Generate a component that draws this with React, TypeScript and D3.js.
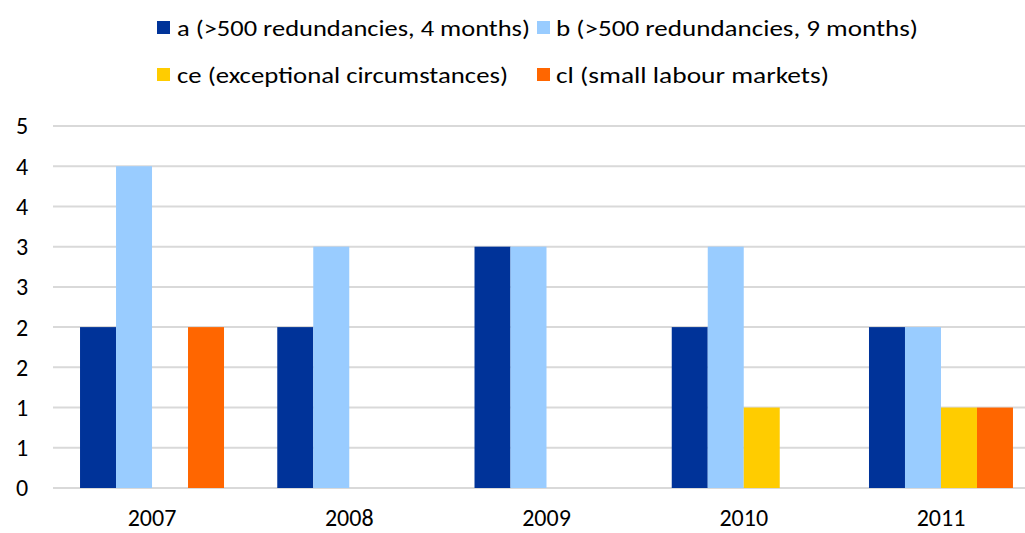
import React from "react";
import * as d3 from "d3";

const categories = ["2007", "2008", "2009", "2010", "2011"];
const seriesNames = [
  "a (>500 redundancies, 4 months)",
  "b (>500 redundancies, 9 months)",
  "ce (exceptional circumstances)",
  "cl (small labour markets)",
];
const seriesA = [2, 2, 3, 2, 2];
const seriesB = [4, 3, 3, 3, 2];
const seriesCE = [0, 0, 0, 1, 1];
const seriesCL = [2, 0, 0, 0, 1];
const yTicks = [0, 0.5, 1, 1.5, 2, 2.5, 3, 3.5, 4, 4.5];
const colors = ["#003399", "#99CCFF", "#FFCC00", "#FF6600"];

const W = 1025;
const H = 533;
const FONT = "Carlito, Calibri, 'Open Sans', sans-serif";

export default function App() {
  const series = [seriesA, seriesB, seriesCE, seriesCL];
  const x = d3.scaleBand<string>().domain(categories).range([53.4, 1039.6]).paddingInner(0).paddingOuter(0);
  const groupW = x.bandwidth() * 0.73;
  const xi = d3
    .scaleBand<number>()
    .domain(d3.range(series.length))
    .range([(x.bandwidth() - groupW) / 2, (x.bandwidth() + groupW) / 2]);
  const y = d3.scaleLinear().domain([0, 4.5]).range([488, 126]);

  const legendItems = [
    { name: seriesNames[0], color: colors[0], sx: 157, tx: 177, y: 28, len: 353 },
    { name: seriesNames[1], color: colors[1], sx: 537, tx: 556, y: 28, len: 362 },
    { name: seriesNames[2], color: colors[2], sx: 157, tx: 177, y: 75, len: 331 },
    { name: seriesNames[3], color: colors[3], sx: 537, tx: 556, y: 75, len: 273 },
  ];

  return (
    <svg width={W} height={H} style={{ position: "absolute", left: 0, top: 0, background: "#fff" }}>
      <g>
        {yTicks.map((t) => (
          <line key={"g" + t} x1={53} x2={W} y1={y(t)} y2={y(t)} stroke="#D9D9D9" strokeWidth={2} />
        ))}
      </g>
      <g>
        {yTicks.map((t) => (
          <text
            key={"t" + t}
            x={22}
            y={y(t)}
            dy="0.35em"
            textAnchor="middle"
            fontFamily={FONT}
            fontSize={24}
            fill="#000"
          >
            {Math.round(t)}
          </text>
        ))}
      </g>
      <g>
        {categories.map((c, ci) => (
          <g key={c} transform={`translate(${x(c)},0)`}>
            {series.map((s, si) =>
              s[ci] > 0 ? (
                <rect
                  key={si}
                  x={xi(si)}
                  width={xi.bandwidth()}
                  y={y(s[ci])}
                  height={y(0) - y(s[ci])}
                  fill={colors[si]}
                />
              ) : null
            )}
            <text
              x={x.bandwidth() / 2}
              y={518}
              dy="0.35em"
              textAnchor="middle"
              fontFamily={FONT}
              fontSize={24}
              fill="#000"
            >
              {c}
            </text>
          </g>
        ))}
      </g>
      <g>
        {legendItems.map((l) => (
          <g key={l.name}>
            <rect x={l.sx} y={l.y - 7} width={13} height={13} fill={l.color} />
            <text
              x={l.tx}
              y={l.y}
              dy="0.35em"
              fontFamily={FONT}
              fontSize={23}
              fill="#000"
              textLength={l.len}
              lengthAdjust="spacingAndGlyphs"
            >
              {l.name}
            </text>
          </g>
        ))}
      </g>
    </svg>
  );
}
